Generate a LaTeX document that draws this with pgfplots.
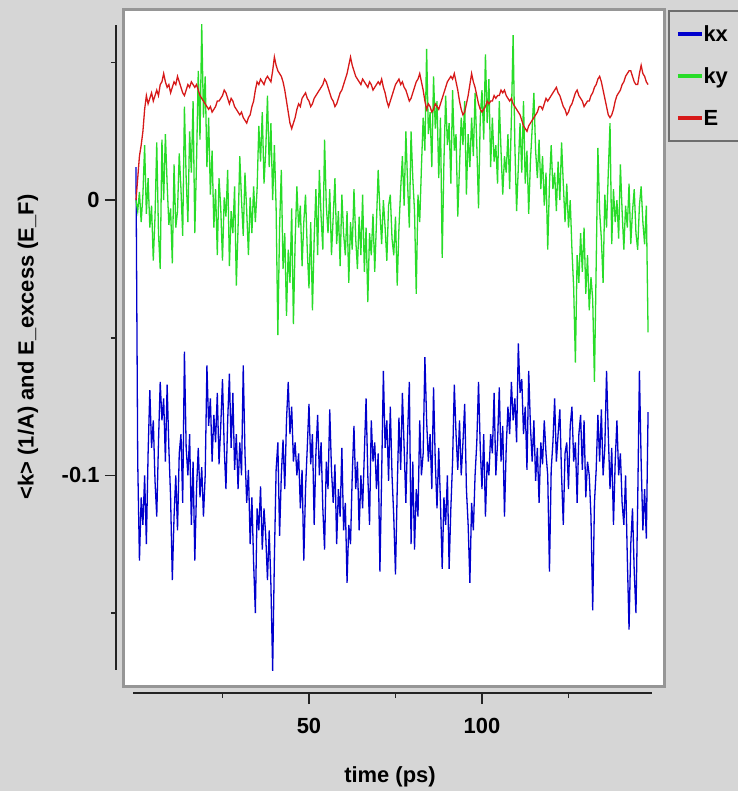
\documentclass[border=0pt]{standalone}
\usepackage{pgfplots}
\pgfplotsset{compat=1.18}
\usepackage{pgfplotstable}
\usepackage{fontspec}
\setmainfont{Liberation Sans}
\definecolor{bgcol}{RGB}{214,214,214}
\definecolor{boxgray}{RGB}{150,150,150}
\definecolor{axiscol}{RGB}{35,35,35}
\definecolor{legborder}{RGB}{110,110,110}
\definecolor{kxcol}{RGB}{0,0,205}
\definecolor{kycol}{RGB}{40,220,40}
\definecolor{ecol}{RGB}{215,25,25}

\pgfplotstableread[row sep=\\]{t y\\
0 0.012\\ 0.5 -0.095\\ 1 -0.131\\ 1.5 -0.108\\ 2 -0.118\\ 2.5 -0.100\\ 3 -0.125\\ 3.5 -0.092\\
4 -0.069\\ 4.5 -0.090\\ 5 -0.080\\ 5.5 -0.102\\ 6 -0.115\\ 6.5 -0.088\\ 7 -0.066\\ 7.5 -0.080\\
8 -0.072\\ 8.5 -0.095\\ 9 -0.067\\ 9.5 -0.090\\ 10 -0.108\\ 10.5 -0.138\\ 11 -0.115\\ 11.5 -0.100\\
12 -0.120\\ 12.5 -0.092\\ 13 -0.085\\ 13.5 -0.110\\ 14 -0.055\\ 14.5 -0.090\\ 15 -0.100\\ 15.5 -0.085\\
16 -0.118\\ 16.5 -0.095\\ 17 -0.131\\ 17.5 -0.105\\ 18 -0.090\\ 18.5 -0.108\\ 19 -0.097\\ 19.5 -0.115\\
20 -0.100\\ 20.5 -0.060\\ 21 -0.082\\ 21.5 -0.072\\ 22 -0.095\\ 22.5 -0.078\\ 23 -0.088\\ 23.5 -0.070\\
24 -0.096\\ 24.5 -0.082\\ 25 -0.065\\ 25.5 -0.090\\ 26 -0.105\\ 26.5 -0.080\\ 27 -0.063\\ 27.5 -0.090\\
28 -0.070\\ 28.5 -0.098\\ 29 -0.085\\ 29.5 -0.105\\ 30 -0.088\\ 30.5 -0.100\\ 31 -0.060\\ 31.5 -0.092\\
32 -0.110\\ 32.5 -0.098\\ 33 -0.125\\ 33.5 -0.108\\ 34 -0.132\\ 34.5 -0.150\\ 35 -0.112\\ 35.5 -0.120\\
36 -0.104\\ 36.5 -0.127\\ 37 -0.112\\ 37.5 -0.122\\ 38 -0.138\\ 38.5 -0.120\\ 39 -0.140\\ 39.5 -0.171\\
40 -0.130\\ 40.5 -0.098\\ 41 -0.088\\ 41.5 -0.122\\ 42 -0.100\\ 42.5 -0.087\\ 43 -0.105\\ 43.5 -0.080\\
44 -0.066\\ 44.5 -0.085\\ 45 -0.075\\ 45.5 -0.095\\ 46 -0.088\\ 46.5 -0.100\\ 47 -0.092\\ 47.5 -0.112\\
48 -0.098\\ 48.5 -0.131\\ 49 -0.105\\ 49.5 -0.090\\ 50 -0.074\\ 50.5 -0.096\\ 51 -0.085\\ 51.5 -0.118\\
52 -0.092\\ 52.5 -0.078\\ 53 -0.100\\ 53.5 -0.088\\ 54 -0.112\\ 54.5 -0.127\\ 55 -0.095\\ 55.5 -0.105\\
56 -0.076\\ 56.5 -0.098\\ 57 -0.110\\ 57.5 -0.096\\ 58 -0.125\\ 58.5 -0.105\\ 59 -0.115\\ 59.5 -0.090\\
60 -0.120\\ 60.5 -0.110\\ 61 -0.139\\ 61.5 -0.118\\ 62 -0.125\\ 62.5 -0.100\\ 63 -0.082\\ 63.5 -0.105\\
64 -0.095\\ 64.5 -0.120\\ 65 -0.100\\ 65.5 -0.112\\ 66 -0.092\\ 66.5 -0.072\\ 67 -0.100\\ 67.5 -0.118\\
68 -0.080\\ 68.5 -0.095\\ 69 -0.088\\ 69.5 -0.105\\ 70 -0.092\\ 70.5 -0.135\\ 71 -0.100\\ 71.5 -0.062\\
72 -0.090\\ 72.5 -0.080\\ 73 -0.102\\ 73.5 -0.075\\ 74 -0.100\\ 74.5 -0.115\\ 75 -0.136\\ 75.5 -0.105\\
76 -0.079\\ 76.5 -0.098\\ 77 -0.070\\ 77.5 -0.090\\ 78 -0.110\\ 78.5 -0.085\\ 79 -0.066\\ 79.5 -0.125\\
80 -0.095\\ 80.5 -0.127\\ 81 -0.105\\ 81.5 -0.115\\ 82 -0.080\\ 82.5 -0.100\\ 83 -0.092\\ 83.5 -0.057\\
84 -0.080\\ 84.5 -0.095\\ 85 -0.085\\ 85.5 -0.105\\ 86 -0.068\\ 86.5 -0.095\\ 87 -0.112\\ 87.5 -0.090\\
88 -0.110\\ 88.5 -0.134\\ 89 -0.108\\ 89.5 -0.118\\ 90 -0.100\\ 90.5 -0.134\\ 91 -0.112\\ 91.5 -0.095\\
92 -0.067\\ 92.5 -0.085\\ 93 -0.098\\ 93.5 -0.080\\ 94 -0.100\\ 94.5 -0.088\\ 95 -0.074\\ 95.5 -0.105\\
96 -0.118\\ 96.5 -0.139\\ 97 -0.110\\ 97.5 -0.120\\ 98 -0.100\\ 98.5 -0.088\\ 99 -0.066\\ 99.5 -0.090\\
100 -0.105\\ 100.5 -0.085\\ 101 -0.115\\ 101.5 -0.095\\ 102 -0.100\\ 102.5 -0.085\\ 103 -0.092\\ 103.5 -0.070\\
104 -0.100\\ 104.5 -0.088\\ 105 -0.068\\ 105.5 -0.095\\ 106 -0.082\\ 106.5 -0.115\\ 107 -0.090\\ 107.5 -0.075\\
108 -0.085\\ 108.5 -0.066\\ 109 -0.080\\ 109.5 -0.072\\ 110 -0.088\\ 110.5 -0.052\\ 111 -0.070\\ 111.5 -0.065\\
112 -0.085\\ 112.5 -0.075\\ 113 -0.098\\ 113.5 -0.062\\ 114 -0.082\\ 114.5 -0.095\\ 115 -0.080\\ 115.5 -0.102\\
116 -0.090\\ 116.5 -0.110\\ 117 -0.088\\ 117.5 -0.096\\ 118 -0.080\\ 118.5 -0.092\\ 119 -0.100\\ 119.5 -0.135\\
120 -0.098\\ 120.5 -0.088\\ 121 -0.072\\ 121.5 -0.095\\ 122 -0.085\\ 122.5 -0.076\\ 123 -0.100\\ 123.5 -0.118\\
124 -0.092\\ 124.5 -0.088\\ 125 -0.105\\ 125.5 -0.082\\ 126 -0.075\\ 126.5 -0.095\\ 127 -0.088\\ 127.5 -0.110\\
128 -0.085\\ 128.5 -0.078\\ 129 -0.098\\ 129.5 -0.080\\ 130 -0.108\\ 130.5 -0.095\\ 131 -0.100\\ 131.5 -0.115\\
132 -0.149\\ 132.5 -0.110\\ 133 -0.098\\ 133.5 -0.078\\ 134 -0.095\\ 134.5 -0.076\\ 135 -0.100\\ 135.5 -0.090\\
136 -0.062\\ 136.5 -0.085\\ 137 -0.105\\ 137.5 -0.090\\ 138 -0.118\\ 138.5 -0.095\\ 139 -0.080\\ 139.5 -0.100\\
140 -0.092\\ 140.5 -0.110\\ 141 -0.118\\ 141.5 -0.100\\ 142 -0.130\\ 142.5 -0.156\\ 143 -0.125\\ 143.5 -0.112\\
144 -0.135\\ 144.5 -0.150\\ 145 -0.110\\ 145.5 -0.062\\ 146 -0.095\\ 146.5 -0.120\\ 147 -0.105\\ 147.5 -0.123\\
148 -0.077\\
}\kxdata

\pgfplotstableread[row sep=\\]{t y\\
0 0.000\\ 0.5 -0.004\\ 1 0.003\\ 1.5 -0.008\\ 2 0.002\\ 2.5 0.020\\ 3 -0.005\\ 3.5 0.008\\
4 -0.010\\ 4.5 -0.002\\ 5 -0.022\\ 5.5 -0.006\\ 6 0.021\\ 6.5 -0.012\\ 7 -0.025\\ 7.5 0.022\\
8 0.000\\ 8.5 0.024\\ 9 0.006\\ 9.5 -0.009\\ 10 -0.003\\ 10.5 -0.023\\ 11 0.013\\ 11.5 -0.010\\
12 -0.004\\ 12.5 0.017\\ 13 0.004\\ 13.5 -0.013\\ 14 0.034\\ 14.5 0.008\\ 15 -0.008\\ 15.5 0.025\\
16 0.010\\ 16.5 0.036\\ 17 -0.012\\ 17.5 0.014\\ 18 0.047\\ 18.5 0.022\\ 19 0.064\\ 19.5 0.030\\
20 0.045\\ 20.5 0.012\\ 21 0.030\\ 21.5 0.002\\ 22 0.018\\ 22.5 -0.010\\ 23 0.004\\ 23.5 -0.020\\
24 0.008\\ 24.5 -0.003\\ 25 -0.022\\ 25.5 0.001\\ 26 -0.006\\ 26.5 0.011\\ 27 -0.024\\ 27.5 -0.004\\
28 -0.012\\ 28.5 0.005\\ 29 -0.031\\ 29.5 -0.010\\ 30 0.016\\ 30.5 0.000\\ 31 -0.013\\ 31.5 0.010\\
32 -0.004\\ 32.5 -0.020\\ 33 0.001\\ 33.5 -0.012\\ 34 0.005\\ 34.5 -0.008\\ 35 0.004\\ 35.5 0.027\\
36 0.014\\ 36.5 0.032\\ 37 0.006\\ 37.5 0.018\\ 38 0.038\\ 38.5 0.012\\ 39 0.028\\ 39.5 0.000\\
40 0.020\\ 40.5 -0.003\\ 41 -0.049\\ 41.5 -0.010\\ 42 0.011\\ 42.5 -0.025\\ 43 -0.012\\ 43.5 -0.042\\
44 -0.018\\ 44.5 -0.030\\ 45 -0.003\\ 45.5 -0.045\\ 46 -0.015\\ 46.5 0.005\\ 47 -0.010\\ 47.5 -0.002\\
48 -0.024\\ 48.5 -0.008\\ 49 0.002\\ 49.5 -0.018\\ 50 -0.032\\ 50.5 -0.008\\ 51 -0.040\\ 51.5 -0.014\\
52 0.004\\ 52.5 -0.020\\ 53 0.011\\ 53.5 -0.006\\ 54 -0.018\\ 54.5 0.022\\ 55 -0.002\\ 55.5 -0.012\\
56 0.004\\ 56.5 -0.020\\ 57 -0.006\\ 57.5 0.008\\ 58 -0.016\\ 58.5 -0.004\\ 59 -0.024\\ 59.5 0.002\\
60 -0.012\\ 60.5 -0.020\\ 61 -0.004\\ 61.5 -0.030\\ 62 -0.008\\ 62.5 -0.018\\ 63 0.004\\ 63.5 -0.014\\
64 -0.025\\ 64.5 -0.006\\ 65 -0.020\\ 65.5 0.002\\ 66 -0.026\\ 66.5 -0.010\\ 67 -0.037\\ 67.5 -0.012\\
68 -0.020\\ 68.5 -0.005\\ 69 -0.026\\ 69.5 -0.008\\ 70 0.011\\ 70.5 -0.004\\ 71 -0.016\\ 71.5 0.000\\
72 -0.010\\ 72.5 -0.022\\ 73 -0.002\\ 73.5 0.002\\ 74 -0.014\\ 74.5 -0.020\\ 75 -0.006\\ 75.5 -0.031\\
76 -0.010\\ 76.5 0.004\\ 77 0.016\\ 77.5 -0.002\\ 78 0.025\\ 78.5 0.006\\ 79 -0.010\\ 79.5 0.025\\
80 0.008\\ 80.5 -0.004\\ 81 -0.034\\ 81.5 0.002\\ 82 -0.008\\ 82.5 0.012\\ 83 0.030\\ 83.5 0.018\\
84 0.055\\ 84.5 0.024\\ 85 0.032\\ 85.5 0.012\\ 86 0.045\\ 86.5 0.026\\ 87 0.036\\ 87.5 0.008\\
88 0.030\\ 88.5 -0.021\\ 89 0.014\\ 89.5 0.038\\ 90 0.020\\ 90.5 0.028\\ 91 0.006\\ 91.5 0.040\\
92 0.018\\ 92.5 0.024\\ 93 -0.006\\ 93.5 0.012\\ 94 0.030\\ 94.5 0.020\\ 95 0.036\\ 95.5 0.002\\
96 0.024\\ 96.5 0.012\\ 97 0.030\\ 97.5 0.016\\ 98 0.039\\ 98.5 0.020\\ 99 -0.003\\ 99.5 0.030\\
100 0.040\\ 100.5 0.022\\ 101 0.053\\ 101.5 0.028\\ 102 0.044\\ 102.5 0.012\\ 103 0.030\\ 103.5 0.014\\
104 0.020\\ 104.5 0.006\\ 105 0.036\\ 105.5 0.018\\ 106 0.002\\ 106.5 0.016\\ 107 0.010\\ 107.5 0.024\\
108 0.004\\ 108.5 0.030\\ 109 0.060\\ 109.5 0.020\\ 110 -0.004\\ 110.5 0.012\\ 111 0.028\\ 111.5 0.010\\
112 0.036\\ 112.5 0.006\\ 113 0.018\\ 113.5 -0.005\\ 114 0.014\\ 114.5 0.026\\ 115 0.039\\ 115.5 0.018\\
116 0.008\\ 116.5 0.022\\ 117 0.004\\ 117.5 0.016\\ 118 -0.002\\ 118.5 0.010\\ 119 -0.018\\ 119.5 0.006\\
120 0.020\\ 120.5 0.004\\ 121 0.010\\ 121.5 -0.004\\ 122 0.014\\ 122.5 0.000\\ 123 0.021\\ 123.5 0.006\\
124 -0.008\\ 124.5 0.006\\ 125 -0.010\\ 125.5 0.000\\ 126 -0.018\\ 126.5 -0.032\\ 127 -0.059\\ 127.5 -0.020\\
128 -0.030\\ 128.5 -0.012\\ 129 -0.026\\ 129.5 -0.010\\ 130 -0.034\\ 130.5 -0.020\\ 131 -0.040\\ 131.5 -0.028\\
132 -0.036\\ 132.5 -0.066\\ 133 -0.024\\ 133.5 0.019\\ 134 -0.004\\ 134.5 -0.014\\ 135 -0.030\\ 135.5 0.002\\
136 -0.010\\ 136.5 0.010\\ 137 0.028\\ 137.5 -0.016\\ 138 0.004\\ 138.5 -0.008\\ 139 0.000\\ 139.5 -0.014\\
140 0.013\\ 140.5 -0.004\\ 141 -0.018\\ 141.5 -0.002\\ 142 -0.010\\ 142.5 0.006\\ 143 -0.016\\ 143.5 -0.004\\
144 0.004\\ 144.5 -0.012\\ 145 -0.018\\ 145.5 -0.002\\ 146 0.005\\ 146.5 -0.008\\ 147 -0.016\\ 147.5 -0.002\\
148 -0.048\\
}\kydata

\pgfplotstableread[row sep=\\]{t y\\
0 0.000\\ 0.5 0.008\\ 1 0.016\\ 1.5 0.020\\ 2 0.025\\ 2.5 0.033\\ 3 0.038\\ 3.5 0.035\\
4 0.037\\ 4.5 0.039\\ 5 0.036\\ 5.5 0.038\\ 6 0.040\\ 6.5 0.038\\ 7 0.042\\ 7.5 0.043\\
8 0.046\\ 8.5 0.043\\ 9 0.041\\ 9.5 0.042\\ 10 0.039\\ 10.5 0.041\\ 11 0.043\\ 11.5 0.042\\
12 0.045\\ 12.5 0.043\\ 13 0.041\\ 13.5 0.039\\ 14 0.038\\ 14.5 0.040\\ 15 0.042\\ 15.5 0.041\\
16 0.043\\ 16.5 0.042\\ 17 0.041\\ 17.5 0.042\\ 18 0.040\\ 18.5 0.038\\ 19 0.037\\ 19.5 0.036\\
20 0.035\\ 20.5 0.034\\ 21 0.033\\ 21.5 0.034\\ 22 0.032\\ 22.5 0.033\\ 23 0.034\\ 23.5 0.036\\
24 0.036\\ 24.5 0.037\\ 25 0.038\\ 25.5 0.040\\ 26 0.039\\ 26.5 0.037\\ 27 0.035\\ 27.5 0.037\\
28 0.036\\ 28.5 0.034\\ 29 0.033\\ 29.5 0.032\\ 30 0.031\\ 30.5 0.032\\ 31 0.030\\ 31.5 0.029\\
32 0.028\\ 32.5 0.030\\ 33 0.031\\ 33.5 0.034\\ 34 0.036\\ 34.5 0.040\\ 35 0.043\\ 35.5 0.042\\
36 0.044\\ 36.5 0.043\\ 37 0.042\\ 37.5 0.044\\ 38 0.045\\ 38.5 0.044\\ 39 0.043\\ 39.5 0.047\\
40 0.052\\ 40.5 0.049\\ 41 0.047\\ 41.5 0.046\\ 42 0.045\\ 42.5 0.043\\ 43 0.040\\ 43.5 0.036\\
44 0.032\\ 44.5 0.028\\ 45 0.026\\ 45.5 0.028\\ 46 0.030\\ 46.5 0.033\\ 47 0.035\\ 47.5 0.034\\
48 0.037\\ 48.5 0.038\\ 49 0.039\\ 49.5 0.037\\ 50 0.036\\ 50.5 0.034\\ 51 0.035\\ 51.5 0.037\\
52 0.038\\ 52.5 0.039\\ 53 0.040\\ 53.5 0.041\\ 54 0.042\\ 54.5 0.044\\ 55 0.043\\ 55.5 0.041\\
56 0.039\\ 56.5 0.037\\ 57 0.036\\ 57.5 0.034\\ 58 0.035\\ 58.5 0.037\\ 59 0.039\\ 59.5 0.040\\
60 0.042\\ 60.5 0.044\\ 61 0.046\\ 61.5 0.049\\ 62 0.052\\ 62.5 0.049\\ 63 0.047\\ 63.5 0.045\\
64 0.044\\ 64.5 0.043\\ 65 0.042\\ 65.5 0.044\\ 66 0.043\\ 66.5 0.042\\ 67 0.041\\ 67.5 0.043\\
68 0.042\\ 68.5 0.040\\ 69 0.041\\ 69.5 0.042\\ 70 0.043\\ 70.5 0.042\\ 71 0.044\\ 71.5 0.041\\
72 0.039\\ 72.5 0.036\\ 73 0.034\\ 73.5 0.036\\ 74 0.038\\ 74.5 0.040\\ 75 0.042\\ 75.5 0.043\\
76 0.044\\ 76.5 0.042\\ 77 0.043\\ 77.5 0.041\\ 78 0.040\\ 78.5 0.038\\ 79 0.036\\ 79.5 0.037\\
80 0.039\\ 80.5 0.041\\ 81 0.043\\ 81.5 0.044\\ 82 0.046\\ 82.5 0.043\\ 83 0.040\\ 83.5 0.036\\
84 0.033\\ 84.5 0.035\\ 85 0.034\\ 85.5 0.032\\ 86 0.033\\ 86.5 0.035\\ 87 0.034\\ 87.5 0.033\\
88 0.035\\ 88.5 0.037\\ 89 0.039\\ 89.5 0.041\\ 90 0.043\\ 90.5 0.044\\ 91 0.045\\ 91.5 0.044\\
92 0.046\\ 92.5 0.043\\ 93 0.040\\ 93.5 0.036\\ 94 0.033\\ 94.5 0.031\\ 95 0.032\\ 95.5 0.035\\
96 0.038\\ 96.5 0.042\\ 97 0.046\\ 97.5 0.043\\ 98 0.041\\ 98.5 0.038\\ 99 0.035\\ 99.5 0.033\\
100 0.032\\ 100.5 0.033\\ 101 0.034\\ 101.5 0.036\\ 102 0.035\\ 102.5 0.036\\ 103 0.036\\ 103.5 0.038\\
104 0.037\\ 104.5 0.038\\ 105 0.038\\ 105.5 0.040\\ 106 0.039\\ 106.5 0.040\\ 107 0.038\\ 107.5 0.037\\
108 0.036\\ 108.5 0.037\\ 109 0.035\\ 109.5 0.034\\ 110 0.033\\ 110.5 0.032\\ 111 0.031\\ 111.5 0.029\\
112 0.027\\ 112.5 0.026\\ 113 0.025\\ 113.5 0.027\\ 114 0.028\\ 114.5 0.029\\ 115 0.030\\ 115.5 0.031\\
116 0.032\\ 116.5 0.034\\ 117 0.034\\ 117.5 0.033\\ 118 0.035\\ 118.5 0.037\\ 119 0.036\\ 119.5 0.037\\
120 0.038\\ 120.5 0.039\\ 121 0.040\\ 121.5 0.041\\ 122 0.039\\ 122.5 0.038\\ 123 0.036\\ 123.5 0.034\\
124 0.033\\ 124.5 0.031\\ 125 0.032\\ 125.5 0.034\\ 126 0.035\\ 126.5 0.037\\ 127 0.039\\ 127.5 0.040\\
128 0.038\\ 128.5 0.037\\ 129 0.036\\ 129.5 0.034\\ 130 0.035\\ 130.5 0.036\\ 131 0.036\\ 131.5 0.038\\
132 0.039\\ 132.5 0.041\\ 133 0.042\\ 133.5 0.044\\ 134 0.045\\ 134.5 0.043\\ 135 0.040\\ 135.5 0.037\\
136 0.034\\ 136.5 0.031\\ 137 0.030\\ 137.5 0.031\\ 138 0.033\\ 138.5 0.036\\ 139 0.038\\ 139.5 0.039\\
140 0.040\\ 140.5 0.042\\ 141 0.043\\ 141.5 0.045\\ 142 0.046\\ 142.5 0.047\\ 143 0.047\\ 143.5 0.045\\
144 0.043\\ 144.5 0.042\\ 145 0.042\\ 145.5 0.046\\ 146 0.049\\ 146.5 0.046\\ 147 0.045\\ 147.5 0.043\\
148 0.042\\
}\edata

\begin{document}
\begin{tikzpicture}
\fill[bgcol] (0,0) rectangle (738bp,791bp);
\begin{scope}
\clip (0,0) rectangle (738bp,791bp);
\begin{axis}[
  at={(123.5bp,104.5bp)}, anchor=south west,
  width=541bp, height=676.5bp, scale only axis,
  xmin=-3.61, xmax=152.75, ymin=-0.1767, ymax=0.0691,
  axis background/.style={fill=white, draw=boxgray, line width=3bp},
  axis lines=left, separate axis lines,
  axis x line shift=6.5bp, axis y line shift=7.5bp,
  axis line style={-, line width=2bp, color=axiscol},
  x axis line style={shorten <=9.5bp, shorten >=12.5bp},
  y axis line style={shorten <=16.5bp, shorten >=15bp},
  tick align=outside,
  major tick length=11bp, minor tick length=5bp,
  major tick style={line width=1.5bp, color=axiscol},
  minor tick style={line width=1.5bp, color=axiscol},
  xtick={50,100}, xticklabels={50,100},
  minor xtick={25,75,125},
  ytick={-0.1,0}, yticklabels={-0.1,0},
  minor ytick={-0.15,-0.05,0.05},
  tick label style={font=\bfseries\fontsize{22}{26}\selectfont, color=black},
  xticklabel style={yshift=-11bp},
  yticklabel style={xshift=-2bp},
  xlabel={time (ps)}, ylabel={<k> (1/A) and E\_excess (E\_F)},
  every axis x label/.style={at={(axis description cs:0.4926,-0.1338)}, anchor=center,
    font=\bfseries\fontsize{22}{26}\selectfont},
  every axis y label/.style={at={(axis description cs:-0.1765,0.502)}, anchor=center, rotate=90,
    font=\bfseries\fontsize{22}{26}\selectfont},
  legend style={at={(axis description cs:1.0065,1)}, anchor=north west,
    draw=legborder, line width=2bp, fill=bgcol,
    inner xsep=7bp, inner ysep=15bp, row sep=26bp,
    font=\bfseries\fontsize{22}{26}\selectfont,
    nodes={inner sep=0pt, text height=16bp, text depth=0bp}},
  legend cell align=left,
  legend image code/.code={\draw[#1, line width=3.5bp] (0bp,0bp) -- (24bp,0bp);},
]
\addplot[kxcol, line width=1.3bp] table[x=t, y=y] {\kxdata};
\addlegendentry{kx\hspace*{20bp}}
\addplot[kycol, line width=1.3bp] table[x=t, y=y] {\kydata};
\addlegendentry{ky}
\addplot[ecol, line width=1.3bp] table[x=t, y=y] {\edata};
\addlegendentry{E}
\end{axis}
\end{scope}
\pgfresetboundingbox
\path[use as bounding box] (0,0) rectangle (738bp,791bp);
\end{tikzpicture}
\end{document}
